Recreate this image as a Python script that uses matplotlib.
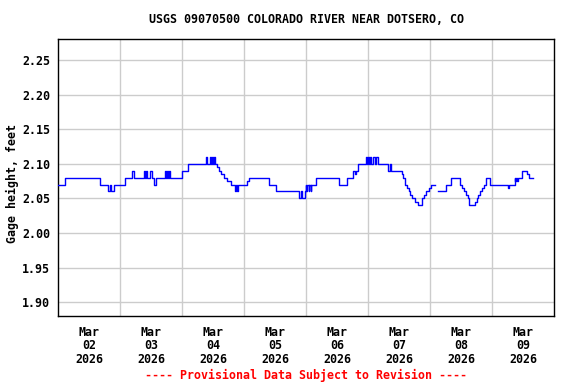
import numpy as np
import pandas as pd
import matplotlib
matplotlib.use("Agg")
import matplotlib.pyplot as plt

# gage height change points, hours after 2026-03-02 00:00 (step data, nan = gap)
hours = [0, 2.75, 16.0, 19.25, 20.0, 20.5, 21.75, 25.75, 28.5, 29.5,
         33.25, 33.75, 34.0, 34.5, 35.5, 36.25, 37.25, 37.75, 41.25, 41.75,
         42.25, 42.5, 43.0, 43.25, 48.0, 50.25, 57.25, 57.75, 58.75, 59.25,
         59.5, 60.0, 60.25, 60.75, 61.5, 62.25, 63.0, 64.25, 65.25, 66.75,
         68.5, 68.75, 69.25, 69.75, 73.25, 73.75, 81.75, 84.5, 93.25, 94.0,
         94.25, 95.5, 95.75, 96.0, 96.5, 97.0, 97.25, 97.75, 98.0, 100.0,
         108.75, 112.0, 114.25, 114.75, 115.25, 116.0, 119.0, 119.5, 120.0, 120.5,
         120.75, 121.25, 122.0, 122.5, 123.0, 123.75, 127.75, 128.5, 129.0, 133.0,
         133.5, 134.25, 135.0, 135.75, 136.25, 137.0, 138.0, 139.5, 141.0, 141.75,
         142.5, 143.5, 144.25, 145.75, 147.0, 150.0, 152.0, 155.5, 156.25, 157.0,
         157.75, 158.5, 159.25, 161.25, 162.0, 162.75, 163.5, 164.25, 165.0, 165.75,
         167.25, 174.25, 174.75, 176.75, 177.0, 177.25, 177.5, 178.0, 179.5, 181.5,
         182.25, 184.0]
gage_ft = [2.07, 2.08, 2.07, 2.06, 2.07, 2.06, 2.07, 2.08, 2.09, 2.08,
           2.09, 2.08, 2.09, 2.08, 2.09, 2.08, 2.07, 2.08, 2.09, 2.08,
           2.09, 2.08, 2.09, 2.08, 2.09, 2.10, 2.11, 2.10, 2.11, 2.10,
           2.11, 2.10, 2.11, 2.10, 2.095, 2.09, 2.085, 2.08, 2.075, 2.07,
           2.06, 2.07, 2.06, 2.07, 2.075, 2.08, 2.07, 2.06, 2.05, 2.06,
           2.05, 2.06, 2.07, 2.06, 2.07, 2.06, 2.07, 2.06, 2.07, 2.08,
           2.07, 2.08, 2.09, 2.085, 2.09, 2.10, 2.11, 2.10, 2.11, 2.10,
           2.11, 2.10, 2.11, 2.10, 2.11, 2.10, 2.09, 2.10, 2.09, 2.085,
           2.08, 2.07, 2.065, 2.06, 2.055, 2.05, 2.045, 2.04, 2.05, 2.055,
           2.06, 2.065, 2.07, np.nan, 2.06, 2.07, 2.08, 2.07, 2.065, 2.06,
           2.055, 2.05, 2.04, 2.045, 2.05, 2.055, 2.06, 2.065, 2.07, 2.08,
           2.07, 2.065, 2.07, 2.08, 2.075, 2.08, 2.075, 2.08, 2.09, 2.085,
           2.08, 2.08]

start = pd.Timestamp("2026-03-02")
times = start + pd.to_timedelta(hours, unit="h")

day_labels = ["Mar\n%02d\n2026" % d for d in range(2, 10)]
label_pos = [start + pd.Timedelta(days=i, hours=12) for i in range(8)]
grid_pos = [start + pd.Timedelta(days=i) for i in range(1, 8)]
yticks = [1.90, 1.95, 2.00, 2.05, 2.10, 2.15, 2.20, 2.25]

font = {"family": "DejaVu Sans Mono", "weight": "bold", "size": 8.4}

fig = plt.figure(figsize=(5.76, 3.84), dpi=100)
ax = fig.add_axes([58.3 / 576, 1 - 316 / 384, (554 - 58.3) / 576, (316 - 39.3) / 384])

ax.plot(times, gage_ft, color="#0000ff", lw=1, drawstyle="steps-post", zorder=3)

ax.set_xlim(start, start + pd.Timedelta(days=8))
ax.set_ylim(1.88, 2.28)

ax.set_yticks(yticks)
ax.set_yticklabels(["%.2f" % v for v in yticks], fontdict=font)
ax.set_xticks(label_pos)
ax.set_xticklabels(day_labels, fontdict=font, linespacing=1.05)
ax.set_xticks(grid_pos, minor=True)
ax.tick_params(axis="both", which="both", length=0)
ax.tick_params(axis="y", pad=6)
ax.tick_params(axis="x", pad=7)

ax.grid(False, which="major", axis="x")
ax.grid(True, which="minor", axis="x", color="#cccccc", lw=1)
ax.grid(True, which="major", axis="y", color="#cccccc", lw=1)
ax.set_axisbelow(True)
for sp in ax.spines.values():
    sp.set_color("black")
    sp.set_linewidth(1)

ax.set_title("USGS 09070500 COLORADO RIVER NEAR DOTSERO, CO", fontdict=font, pad=12)
ax.set_ylabel("Gage height, feet", fontdict=font)
ax.yaxis.set_label_coords(-0.08, 0.48)

fig.text(306 / 576, 1 - 375 / 384, "---- Provisional Data Subject to Revision ----",
         color="red", ha="center", va="center", **font)

fig.savefig("out.png", dpi=100)
